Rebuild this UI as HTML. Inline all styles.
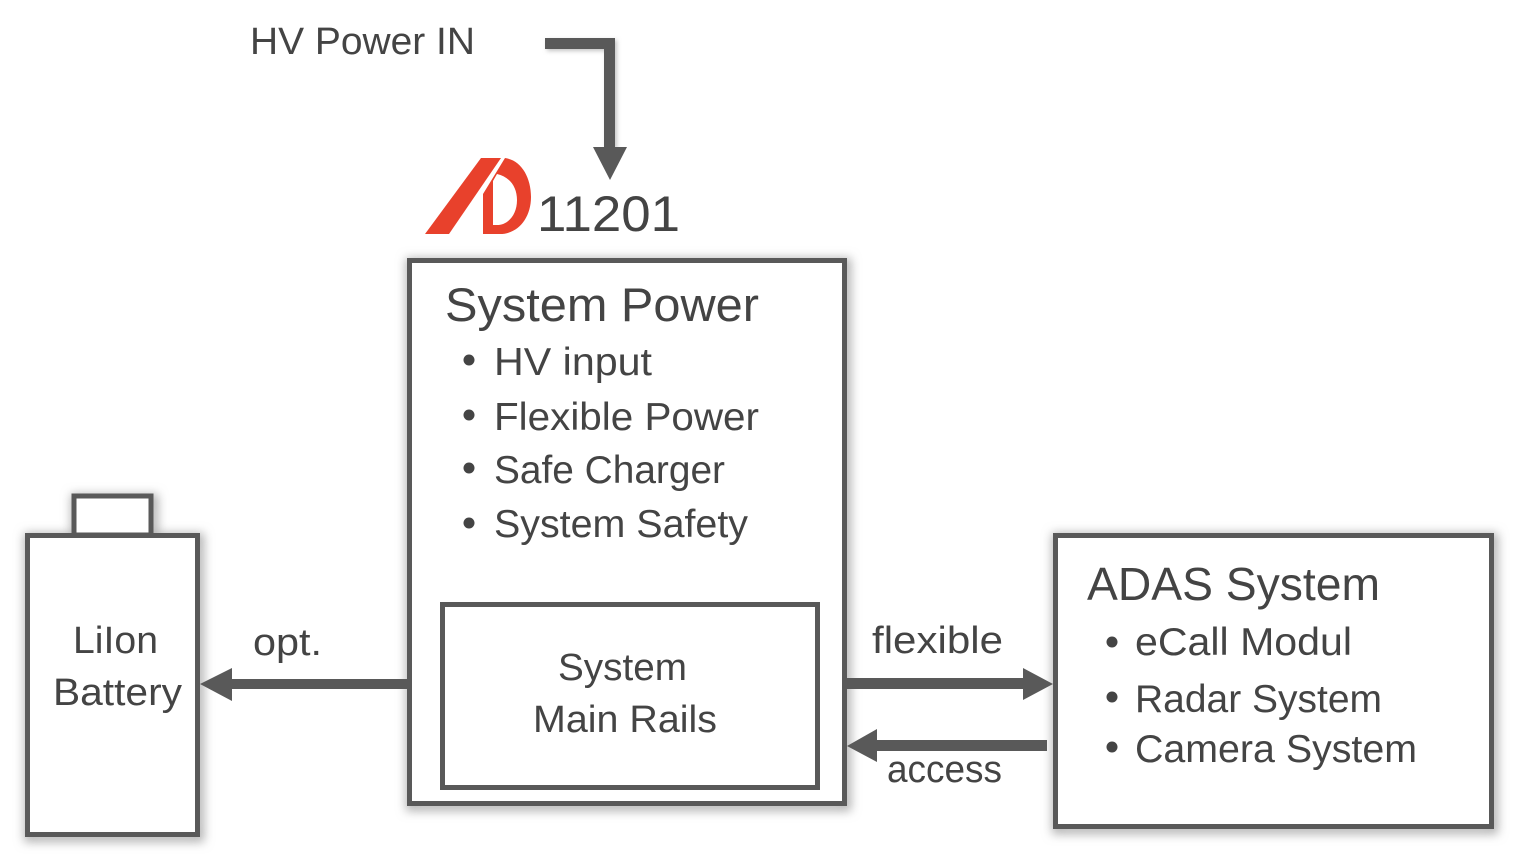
<!DOCTYPE html>
<html>
<head>
<meta charset="utf-8">
<style>
  html, body { margin:0; padding:0; background:#ffffff; }
  body { width:1524px; height:866px; overflow:hidden; }
  svg { display:block; }
  text { font-family: "Liberation Sans", "DejaVu Sans", sans-serif; fill:#444444; }
</style>
</head>
<body>
<svg width="1524" height="866" viewBox="0 0 1524 866" xmlns="http://www.w3.org/2000/svg">
  <defs>
    <filter id="sh" x="-10%" y="-10%" width="120%" height="120%">
      <feGaussianBlur stdDeviation="5"/>
    </filter>
    <filter id="sh2" x="-10%" y="-10%" width="120%" height="120%">
      <feGaussianBlur stdDeviation="2"/>
    </filter>
  </defs>

  <!-- shadows -->
  <g filter="url(#sh)" fill="none" stroke="#b0b0b0" stroke-width="10">
    <rect x="411" y="263" width="435" height="543"/>
    <rect x="1057" y="538" width="436" height="291"/>
    <rect x="29" y="538" width="170" height="299"/>
    <rect x="444" y="607" width="375" height="183"/>
    <rect x="76" y="499" width="77" height="38"/>
  </g>

  <!-- Battery -->
  <rect x="27.5" y="535.5" width="170" height="299" fill="#ffffff" stroke="#595959" stroke-width="5"/>
  <rect x="74" y="496" width="77" height="39" fill="#ffffff" stroke="#595959" stroke-width="5"/>
  <text x="73" y="653" font-size="38" textLength="85" lengthAdjust="spacingAndGlyphs">LiIon</text>
  <text x="53" y="705" font-size="38" textLength="129" lengthAdjust="spacingAndGlyphs">Battery</text>

  <!-- Main box -->
  <rect x="409.5" y="260.5" width="435" height="543" fill="#ffffff" stroke="#595959" stroke-width="5"/>
  <rect x="442.5" y="604.5" width="375" height="183" fill="#ffffff" stroke="#595959" stroke-width="5"/>

  <text x="445" y="321" font-size="47" textLength="314" lengthAdjust="spacingAndGlyphs">System Power</text>
  <circle cx="469" cy="360" r="5.5" fill="#444444"/>
  <circle cx="469" cy="415" r="5.5" fill="#444444"/>
  <circle cx="469" cy="468" r="5.5" fill="#444444"/>
  <circle cx="469" cy="523" r="5.5" fill="#444444"/>
  <text x="494" y="375" font-size="39" textLength="158" lengthAdjust="spacingAndGlyphs">HV input</text>
  <text x="494" y="430" font-size="39" textLength="265" lengthAdjust="spacingAndGlyphs">Flexible Power</text>
  <text x="494" y="483" font-size="39" textLength="231" lengthAdjust="spacingAndGlyphs">Safe Charger</text>
  <text x="494" y="537" font-size="39" textLength="254" lengthAdjust="spacingAndGlyphs">System Safety</text>

  <text x="558" y="680" font-size="38" textLength="129" lengthAdjust="spacingAndGlyphs">System</text>
  <text x="533" y="732" font-size="38" textLength="184" lengthAdjust="spacingAndGlyphs">Main Rails</text>

  <!-- ADAS box -->
  <rect x="1055.5" y="535.5" width="436" height="291" fill="#ffffff" stroke="#595959" stroke-width="5"/>
  <text x="1087" y="600" font-size="46" textLength="293" lengthAdjust="spacingAndGlyphs">ADAS System</text>
  <circle cx="1112" cy="642" r="5.5" fill="#444444"/>
  <circle cx="1112" cy="697" r="5.5" fill="#444444"/>
  <circle cx="1112" cy="747" r="5.5" fill="#444444"/>
  <text x="1135" y="655" font-size="39" textLength="217" lengthAdjust="spacingAndGlyphs">eCall Modul</text>
  <text x="1135" y="712" font-size="39" textLength="247" lengthAdjust="spacingAndGlyphs">Radar System</text>
  <text x="1135" y="762" font-size="39" textLength="282" lengthAdjust="spacingAndGlyphs">Camera System</text>

  <!-- arrow shadows -->
  <g filter="url(#sh2)" fill="#c4c4c4">
    <rect x="547" y="40" width="70" height="11"/>
    <rect x="606" y="40" width="11" height="109"/>
  </g>

  <!-- HV Power IN arrow -->
  <g fill="#595959">
    <rect x="545" y="38" width="70" height="11"/>
    <rect x="604" y="38" width="11" height="110"/>
    <polygon points="593,147 627,147 610,180"/>
  </g>
  <text x="250" y="54" font-size="38" textLength="225" lengthAdjust="spacingAndGlyphs">HV Power IN</text>

  <!-- Logo -->
  <g fill="#e8412c">
    <polygon points="425,234 449,234 501,158 481,158"/>
    <path fill-rule="evenodd" d="M505,158 C521,160 531,177 531,197 C531,218 518,234 500,234 L483,234 L483,194 Z
      M493,225 L493,181 L497,174 C510,177 517,187 517,200 C517,215 508,225 497,225 Z"/>
  </g>
  <text x="537" y="231" font-size="50" textLength="143" lengthAdjust="spacingAndGlyphs">11201</text>

  <!-- opt arrow -->
  <g fill="#595959">
    <rect x="231" y="679" width="177" height="10"/>
    <polygon points="200,684 232,668 232,701"/>
  </g>
  <text x="253" y="655" font-size="38" textLength="69" lengthAdjust="spacingAndGlyphs">opt.</text>

  <!-- flexible arrow -->
  <g fill="#595959">
    <rect x="846" y="678" width="178" height="11"/>
    <polygon points="1023,668 1023,700 1053,684"/>
  </g>
  <text x="872" y="653" font-size="38" textLength="131" lengthAdjust="spacingAndGlyphs">flexible</text>

  <!-- access arrow -->
  <g fill="#595959">
    <rect x="876" y="740" width="171" height="11"/>
    <polygon points="847,746 877,729 877,762"/>
  </g>
  <text x="887" y="782" font-size="38" textLength="115" lengthAdjust="spacingAndGlyphs">access</text>
</svg>
</body>
</html>
